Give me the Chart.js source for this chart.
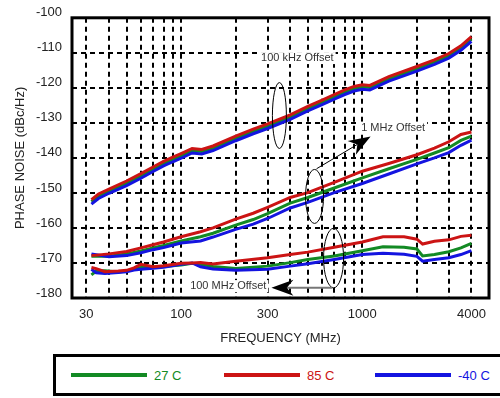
<!DOCTYPE html>
<html>
<head>
<meta charset="utf-8">
<script src="https://cdn.jsdelivr.net/npm/chart.js@4.4.1/dist/chart.umd.min.js"></script>
<style>
  html, body { margin: 0; padding: 0; background: #fff; overflow: hidden; }
  #wrap { position: relative; width: 500px; height: 398px; }
  #phaseNoiseChart { display: block; }
  #legend {
    position: absolute; left: 53px; top: 354px; width: 460px; height: 42px;
    box-sizing: border-box; border: 3px solid #000; background: #fff;
    font: 13px "Liberation Sans", Arial, sans-serif;
  }
  .item { position: absolute; top: 0; height: 36px; display: flex; align-items: center; }
  .swatch { width: 76px; height: 4px; margin-right: 7px; }
</style>
</head>
<body>
<div id="wrap">
  <canvas id="phaseNoiseChart" width="500" height="398"></canvas>
  <div id="legend"></div>
</div>
<script>
// temperatures (legend)
const temps = ["27 C", "85 C", "-40 C"];

// x axis
const gridFreqs = [30, 40, 50, 60, 70, 80, 90, 100, 200, 300, 400, 500, 600, 700, 800, 900, 1000, 2000, 3000, 4000];
const labeledFreqs = [30, 100, 300, 1000, 4000];

// 100 kHz offset
const freq100k = [32, 35, 40, 50, 60, 70, 80, 90, 100, 115, 130, 150, 200, 250, 300, 400, 500, 600, 700, 800, 900, 1000, 1100, 1400, 2000, 2500, 3000, 3500, 4000];
const pn100k27 = [-152.5, -150.9, -149.5, -147.2, -145.2, -143.2, -141.6, -140.4, -139.5, -137.9, -138.2, -137.2, -134.4, -132.4, -130.9, -128.3, -125.9, -124.1, -122.5, -121.2, -120.2, -119.7, -119.9, -117.4, -114.5, -112.6, -110.8, -108.6, -106.0];
const pn100k85 = [-151.9, -150.3, -148.9, -146.6, -144.5, -142.6, -141.0, -139.8, -138.8, -137.3, -137.6, -136.6, -133.8, -131.8, -130.3, -127.7, -125.3, -123.5, -121.9, -120.6, -119.6, -119.1, -119.3, -116.8, -113.9, -112.0, -110.2, -108.0, -105.4];
const pn100kM40 = [-153.2, -151.6, -150.1, -147.9, -145.8, -143.9, -142.3, -141.1, -140.1, -138.6, -138.9, -137.9, -135.1, -133.1, -131.6, -129.0, -126.6, -124.8, -123.2, -121.9, -120.9, -120.4, -120.6, -118.1, -115.2, -113.3, -111.5, -109.3, -106.7];

// 1 MHz offset
const freq1M = [32, 40, 50, 60, 70, 80, 100, 128, 150, 200, 250, 300, 400, 500, 700, 1000, 1400, 2000, 2500, 3000, 3500, 4000];
const pn1M27 = [-168.1, -168.1, -167.4, -166.6, -165.7, -165.0, -163.7, -162.5, -161.5, -159.2, -157.6, -155.9, -152.9, -151.3, -148.6, -145.7, -143.1, -140.4, -138.6, -137.1, -135.0, -133.8];
const pn1M85 = [-167.9, -167.4, -166.7, -165.7, -164.8, -164.0, -162.5, -161.1, -160.0, -157.5, -155.8, -154.1, -151.3, -149.9, -147.0, -143.8, -141.6, -139.1, -137.2, -135.4, -133.3, -132.6];
const pn1MM40 = [-167.4, -168.2, -167.9, -167.1, -166.2, -165.6, -164.3, -163.7, -162.6, -160.4, -158.9, -157.3, -154.3, -152.7, -149.9, -147.3, -144.6, -141.7, -140.0, -138.5, -136.4, -134.9];

// 100 MHz offset
const freq100M = [32, 34, 38, 45, 50, 55, 60, 70, 80, 100, 115, 128, 150, 200, 300, 400, 500, 700, 1000, 1300, 1700, 2000, 2150, 2500, 3000, 3500, 4000];
const pn100M27 = [-173.4, -172.3, -172.2, -172.6, -172.3, -171.8, -171.3, -171.3, -171.0, -170.6, -170.1, -170.4, -171.0, -171.6, -170.9, -169.9, -169.0, -168.0, -166.5, -165.4, -165.5, -166.0, -168.0, -167.6, -166.8, -165.7, -164.4];
const pn100M85 = [-171.3, -171.6, -172.5, -172.3, -172.1, -171.4, -170.4, -171.1, -170.8, -170.1, -170.0, -169.9, -170.3, -169.5, -168.5, -167.6, -166.9, -165.5, -164.0, -162.5, -162.5, -163.2, -164.6, -163.8, -163.4, -162.4, -162.1];
const pn100MM40 = [-171.8, -172.8, -173.0, -172.7, -172.5, -172.0, -171.8, -171.5, -171.2, -170.4, -170.0, -171.1, -171.7, -172.1, -171.8, -170.9, -170.2, -169.0, -167.6, -167.2, -167.5, -168.1, -169.5, -169.0, -168.5, -167.6, -166.5];

const colors = ["#138a24", "#cc1414", "#1414e0"];
const drawOrder = [2, 0, 1]; // red on top, green underneath
const fontFamily = '"Liberation Sans", Arial, sans-serif';

const groups = [
  { freqs: freq100k, series: [pn100k27, pn100k85, pn100kM40] },
  { freqs: freq1M, series: [pn1M27, pn1M85, pn1MM40] },
  { freqs: freq100M, series: [pn100M27, pn100M85, pn100MM40] },
];

const datasets = [];
groups.forEach((g) => {
  g.series.forEach((vals, t) => {
    datasets.push({
      label: temps[t],
      data: g.freqs.map((f, i) => ({ x: f, y: vals[i] })),
      borderColor: colors[t],
      backgroundColor: colors[t],
      borderWidth: 3,
      pointRadius: 0,
      tension: 0,
      fill: false,
      order: drawOrder[t],
    });
  });
});

// callouts in data coordinates
const notes = [
  { text: "100 kHz Offset", f: 438, db: -111.5 },
  { text: "1 MHz Offset", f: 1480, db: -131.4 },
  { text: "100 MHz Offset", f: 182, db: -176.6 },
];
const rings = [
  { f1: 319, f2: 381, db1: -118.5, db2: -137.3 },
  { f1: 486, f2: 611, db1: -143.3, db2: -158.7 },
  { f1: 611, f2: 788, db1: -160.1, db2: -177.1 },
];
const pointers = [
  { f1: 559, db1: -143.1, f2: 1111, db2: -133.9, line: "#000", width: 1 },
  { f1: 685, db1: -177.1, f2: 315, db2: -177.1, line: "#777", width: 2 },
];

const drawArrow = (ctx, x1, y1, x2, y2, lineColor, lineWidth) => {
  const ang = Math.atan2(y2 - y1, x2 - x1);
  const len = 22, half = 8;
  ctx.strokeStyle = lineColor;
  ctx.lineWidth = lineWidth;
  ctx.beginPath();
  ctx.moveTo(x1, y1);
  ctx.lineTo(x2 - Math.cos(ang) * len * 0.7, y2 - Math.sin(ang) * len * 0.7);
  ctx.stroke();
  ctx.save();
  ctx.translate(x2, y2);
  ctx.rotate(ang);
  ctx.fillStyle = "#000";
  ctx.beginPath();
  ctx.moveTo(0, 0);
  ctx.lineTo(-len, -half);
  ctx.lineTo(-len * 0.7, 0);
  ctx.lineTo(-len, half);
  ctx.closePath();
  ctx.fill();
  ctx.restore();
};

const frameAndNotes = {
  id: "frameAndNotes",
  beforeDatasetsDraw(chart) {
    const { ctx, chartArea: a } = chart;
    ctx.save();
    ctx.strokeStyle = "#000";
    ctx.lineWidth = 3;
    ctx.strokeRect(a.left, a.top, a.right - a.left, a.bottom - a.top);
    ctx.restore();
  },
  afterDatasetsDraw(chart) {
    const { ctx, scales: { x, y } } = chart;
    ctx.save();
    ctx.font = "11px " + fontFamily;
    ctx.textAlign = "center";
    ctx.textBaseline = "middle";
    notes.forEach((n) => {
      const px = x.getPixelForValue(n.f), py = y.getPixelForValue(n.db);
      const w = ctx.measureText(n.text).width;
      ctx.fillStyle = "#fff";
      ctx.fillRect(px - w / 2 - 2, py - 6, w + 4, 12);
      ctx.fillStyle = "#333";
      ctx.fillText(n.text, px, py);
    });
    ctx.strokeStyle = "#000";
    ctx.lineWidth = 1;
    rings.forEach((r) => {
      const x1 = x.getPixelForValue(r.f1), x2 = x.getPixelForValue(r.f2);
      const y1 = y.getPixelForValue(r.db1), y2 = y.getPixelForValue(r.db2);
      ctx.beginPath();
      ctx.ellipse((x1 + x2) / 2, (y1 + y2) / 2, (x2 - x1) / 2, (y2 - y1) / 2, 0, 0, Math.PI * 2);
      ctx.stroke();
    });
    pointers.forEach((p) => {
      drawArrow(ctx, x.getPixelForValue(p.f1), y.getPixelForValue(p.db1),
        x.getPixelForValue(p.f2), y.getPixelForValue(p.db2), p.line, p.width);
    });
    ctx.restore();
  },
};

const chart = new Chart(document.getElementById("phaseNoiseChart"), {
  type: "line",
  data: { datasets: datasets },
  plugins: [frameAndNotes],
  options: {
    responsive: false,
    animation: false,
    layout: { padding: { top: 12, right: 11, bottom: 50, left: 0 } },
    plugins: {
      legend: { display: false },
      tooltip: { enabled: false },
    },
    scales: {
      x: {
        type: "logarithmic",
        min: 25,
        max: 5000,
        afterBuildTicks: (scale) => {
          scale.ticks = gridFreqs.map((v) => ({ value: v }));
        },
        afterFit: (scale) => {
          scale.height = 50;
        },
        ticks: {
          autoSkip: false,
          maxRotation: 0,
          padding: 9,
          color: "#222",
          font: { family: fontFamily, size: 13 },
          callback: (v) => (labeledFreqs.includes(v) ? String(v) : ""),
        },
        grid: { color: "#000", lineWidth: 2, drawTicks: false },
        border: { display: false, dash: [5, 4] },
        title: {
          display: true,
          text: "FREQUENCY (MHz)",
          color: "#222",
          font: { family: fontFamily, size: 13 },
          padding: { top: 4, bottom: 2 },
        },
      },
      y: {
        min: -180,
        max: -100,
        afterFit: (scale) => {
          scale.width = 72;
        },
        ticks: {
          stepSize: 10,
          padding: 10,
          labelOffset: -5,
          color: "#222",
          font: { family: fontFamily, size: 13 },
        },
        grid: { color: "#000", lineWidth: 2, drawTicks: false },
        border: { display: false, dash: [5, 4] },
        title: {
          display: true,
          text: "PHASE NOISE (dBc/Hz)",
          color: "#222",
          font: { family: fontFamily, size: 13 },
          padding: { top: 13, bottom: 0 },
        },
      },
    },
  },
});

// legend box below the plot
const legendLefts = [15, 168, 319];
const legendEl = document.getElementById("legend");
temps.forEach((t, i) => {
  const item = document.createElement("div");
  item.className = "item";
  item.style.left = legendLefts[i] + "px";
  item.style.color = colors[i];
  item.innerHTML = '<span class="swatch" style="background:' + colors[i] + '"></span><span>' + t + "</span>";
  legendEl.appendChild(item);
});
</script>
</body>
</html>
